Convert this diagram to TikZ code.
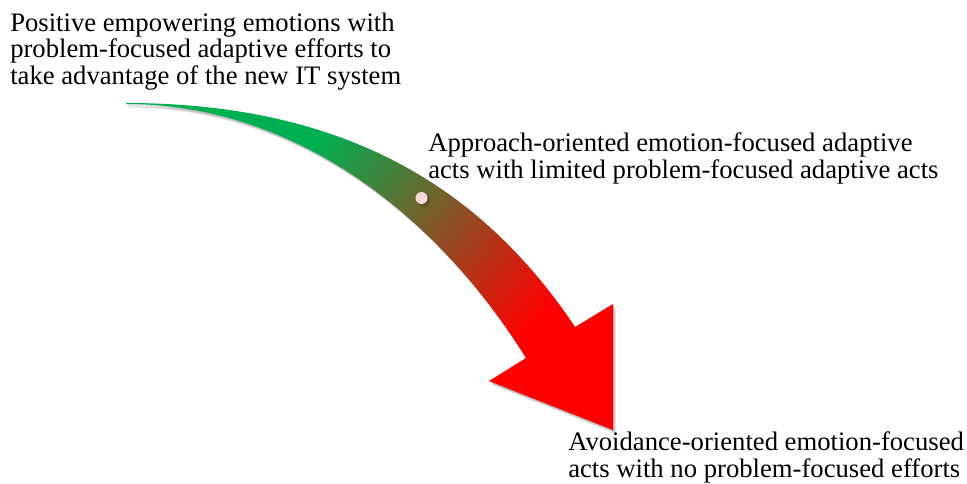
\documentclass[tikz,border=0pt]{standalone}
\usepackage{fontspec}
\setmainfont{Liberation Serif}
\definecolor{agreen}{RGB}{0,176,80}
\definecolor{ared}{RGB}{255,0,0}
\definecolor{dotpink}{RGB}{248,218,218}

% outline of the curved arrow (tail at upper left, head at lower right)
\newcommand{\arrowshape}{(126,103) .. controls (360,103) and (490,200) .. (575,327)
  -- (613,304) -- (613,430) -- (489,381) -- (526,358)
  .. controls (440,220) and (300,104) .. (126,104) -- cycle}

\begin{document}
\begin{tikzpicture}[x=0.75pt,y=-0.75pt,
  txt/.style={anchor=base west, align=left, inner sep=0pt,
    font=\fontsize{20}{19.9}\selectfont},
  softshadow/.style={fill=black, opacity=0.07}]
\useasboundingbox (0,0) rectangle (967,483);

% soft shadow below the arrow
\foreach \d in {1,2,3,4,5}
  \fill[softshadow, shift={(\d*0.6,\d*0.8)}] \arrowshape;

% arrow body with a green-to-red gradient along the direction of travel
\begin{scope}
  \clip \arrowshape;
  \begin{scope}[transform canvas={rotate=-40}]
    \fill[agreen] (-1000,-1000) rectangle (335,1500);
    \shade[left color=agreen, right color=ared] (334,-1000) rectangle (618,1500);
    \fill[ared] (617,-1000) rectangle (1500,1500);
  \end{scope}
\end{scope}

% marker on the arrow
\fill[black, opacity=0.18] (423.5,200.5) circle (6.5);
\node[circle, fill=dotpink, inner sep=0pt, minimum size=9pt] (dot) at (421.5,198) {};

% captions (anchored at the baseline of their last line)
\node[txt] (t1) at (10,84.5) {Positive empowering emotions with\\problem-focused adaptive efforts to\\take advantage of the new IT system};
\node[txt] (t2) at (428,178.5) {Approach-oriented emotion-focused adaptive\\acts with limited problem-focused adaptive acts};
\node[txt] (t3) at (568,477.5) {Avoidance-oriented emotion-focused\\acts with no problem-focused efforts};
\end{tikzpicture}
\end{document}
